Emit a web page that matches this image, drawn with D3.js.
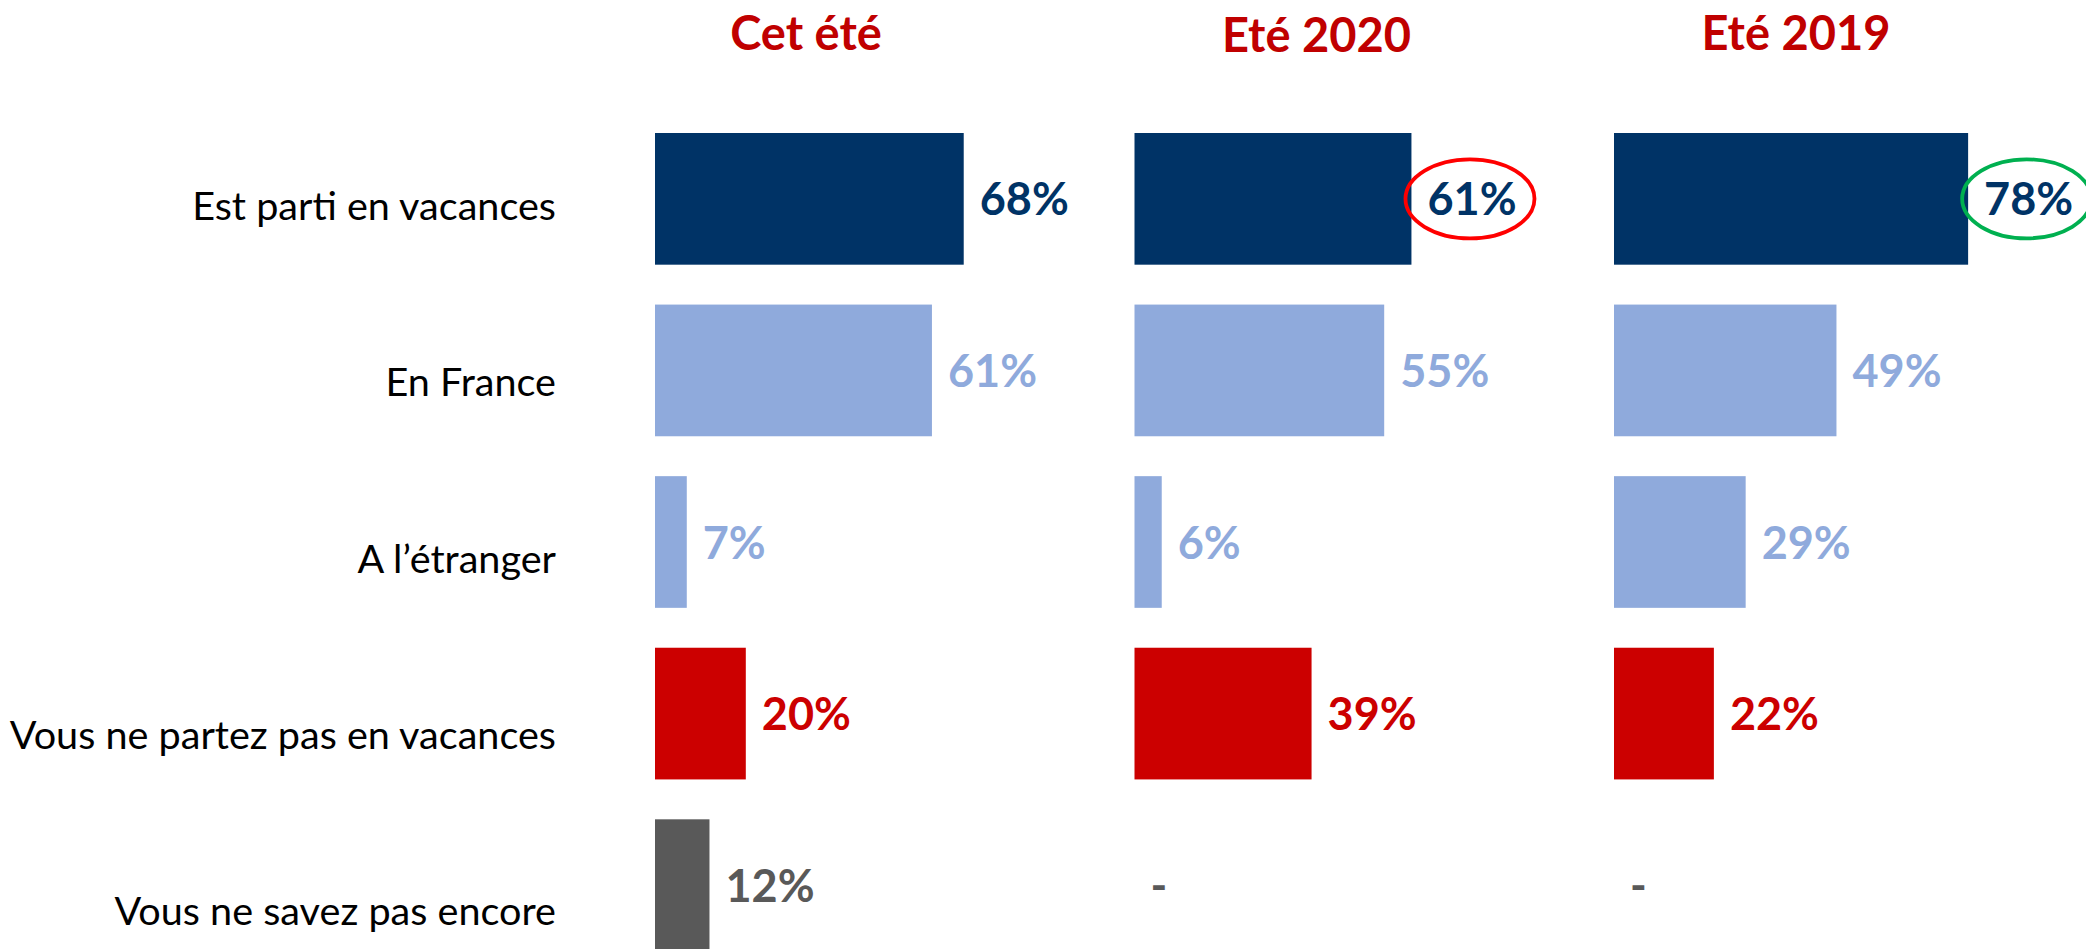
<!DOCTYPE html>
<html>
<head>
<meta charset="utf-8">
<script src="https://cdn.jsdelivr.net/npm/d3@7"></script>
<style>
  body { margin: 0; background: #fff; }
  svg { display: block; }
  text { font-family: Lato, "Open Sans", sans-serif; }
</style>
</head>
<body>
<div id="chart"></div>
<script>
// categories (rows) and periods (columns)
var categories = ["Est parti en vacances", "En France", "A l’étranger", "Vous ne partez pas en vacances", "Vous ne savez pas encore"];
var periods = ["Cet été", "Eté 2020", "Eté 2019"];

// values in %, null = no answer option that year
var cetEte  = [68, 61, 7, 20, 12];
var ete2020 = [61, 55, 6, 39, null];
var ete2019 = [78, 49, 29, 22, null];

// highlighted labels (circled)
var highlights = [
  {period: "Eté 2020", category: "Est parti en vacances", color: "#ff0000"},
  {period: "Eté 2019", category: "Est parti en vacances", color: "#00b050"}
];

var rowColors = ["#003366", "#8faadc", "#8faadc", "#cc0000", "#595959"];

var W = 2086, H = 949;

var series = [cetEte, ete2020, ete2019];

var svg = d3.select("#chart").append("svg")
  .attr("width", W)
  .attr("height", H);

// column start of each small bar chart
var col = d3.scalePoint()
  .domain(periods)
  .range([655, 1614]);

var y = d3.scaleBand()
  .domain(categories)
  .range([133, 951])
  .paddingInner(0.2325)
  .paddingOuter(0);

var x = d3.scaleLinear()
  .domain([0, 100])
  .range([0, 454]);

// category labels sit a bit lower than the bars, like in the slide
var labelY = d3.scalePoint()
  .domain(categories)
  .range([220, 925]);

svg.append("g").selectAll("text")
  .data(categories)
  .enter()
  .append("text")
  .attr("x", 556)
  .attr("y", function(d) { return labelY(d); })
  .style("text-anchor", "end")
  .style("font-size", "39.6px")
  .style("fill", "#000")
  .text(function(d) { return d; });

// titles
svg.append("g").selectAll("text")
  .data(periods)
  .enter()
  .append("text")
  .attr("x", function(d, i) { return col(d) + (i == 0 ? 151 : 182); })
  .attr("y", function(d, i) { return i == 1 ? 52 : 50; })
  .style("text-anchor", "middle")
  .style("font-size", "47px")
  .style("font-weight", "bold")
  .style("fill", "#c00000")
  .text(function(d) { return d; });

periods.forEach(function(p, j) {
  var vals = series[j];
  var g = svg.append("g")
    .attr("transform", "translate(" + col(p) + ",0)");

  var rows = categories.map(function(c, i) {
    return {category: c, value: vals[i], color: rowColors[i]};
  });

  g.selectAll("rect")
    .data(rows.filter(function(d) { return d.value != null; }))
    .enter()
    .append("rect")
    .attr("x", x(0))
    .attr("y", function(d) { return y(d.category); })
    .attr("width", function(d) { return x(d.value); })
    .attr("height", y.bandwidth())
    .style("fill", function(d) { return d.color; });

  g.selectAll("text.value")
    .data(rows)
    .enter()
    .append("text")
    .attr("class", "value")
    .attr("id", function(d, i) { return "lbl-" + j + "-" + i; })
    .attr("x", function(d) { return x(d.value == null ? 0 : d.value) + 16; })
    .attr("y", function(d) { return y(d.category) + y.bandwidth() / 2 + 16.5; })
    .style("font-size", "45px")
    .style("font-weight", "bold")
    .style("fill", function(d) { return d.value == null ? "#595959" : d.color; })
    .text(function(d) { return d.value == null ? "-" : d.value + "%"; });
});

// circles around highlighted labels
highlights.forEach(function(h) {
  var j = periods.indexOf(h.period), i = categories.indexOf(h.category);
  var node = svg.select("#lbl-" + j + "-" + i).node();
  var bb = node.getBBox();
  svg.append("ellipse")
    .attr("cx", col(h.period) + bb.x + bb.width / 2 - 2)
    .attr("cy", y(h.category) + y.bandwidth() / 2)
    .attr("rx", 64.5)
    .attr("ry", 39.5)
    .style("fill", "none")
    .style("stroke", h.color)
    .style("stroke-width", 3.8);
});
</script>
</body>
</html>
